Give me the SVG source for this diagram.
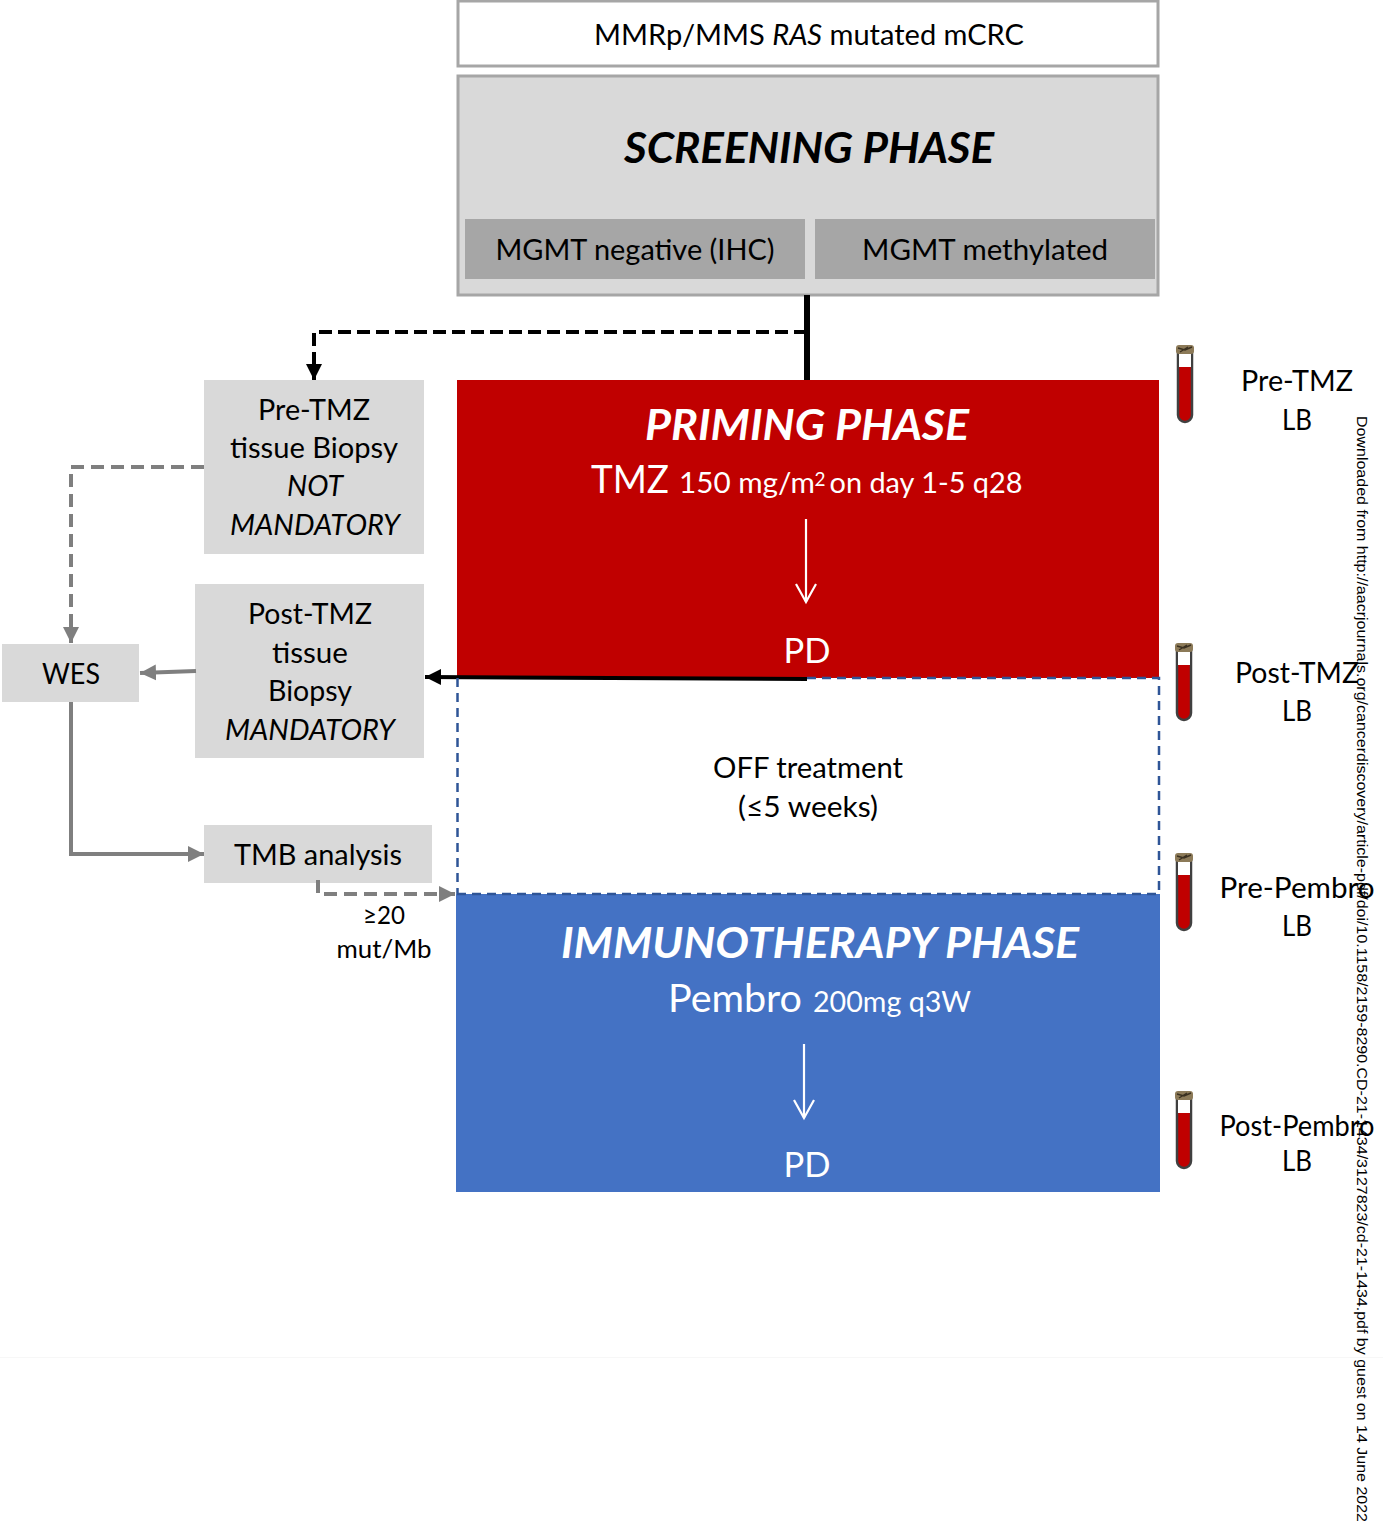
<svg xmlns="http://www.w3.org/2000/svg" width="1383" height="1530" viewBox="0 0 1383 1530">
<style>
text{font-family:Lato,"Open Sans","Liberation Sans",sans-serif;fill:#000;text-anchor:middle;font-size:29px}
.w{fill:#fff}
.i{font-style:italic}
.h{font-style:italic;font-weight:700;font-size:42px}
.g{fill:#d9d9d9}
.c{fill:none;stroke:#7f7f7f;stroke-width:4}
.d{stroke-dasharray:13 7}
.off{fill:none;stroke:#2f5597;stroke-width:2.5;stroke-dasharray:9 6}
</style>
<defs>
<marker id="ag" markerUnits="userSpaceOnUse" markerWidth="18" markerHeight="18" refX="16" refY="9" orient="auto"><path d="M0 1L16 9L0 17Z" fill="#7f7f7f"/></marker>
<marker id="ab" markerUnits="userSpaceOnUse" markerWidth="18" markerHeight="18" refX="16" refY="9" orient="auto"><path d="M0 1L16 9L0 17Z" fill="#000"/></marker>
<marker id="aw" markerUnits="userSpaceOnUse" markerWidth="24" markerHeight="24" refX="20" refY="12" orient="auto"><path d="M2 2L20 12L2 22" fill="none" stroke="#fff" stroke-width="2.2"/></marker>
<g id="tube">
<path d="M-7 0H7V65A7 7 0 0 1 -7 65Z" fill="#c00000" stroke="#404040" stroke-width="2.5"/>
<rect x="-6" y="4" width="12" height="13" fill="#fff"/>
<rect x="-9" y="-5" width="18" height="9" rx="3" fill="#8c7a58"/>
<path d="M-7 -2L0 0L7 -3M-5 2L3 -3" stroke="#3a3020" stroke-width="1.4" fill="none"/>
</g>
</defs>
<rect width="1383" height="1530" fill="#fff"/>
<path d="M0 1357.500H1383" stroke="#f7f7f7" stroke-width="1"/>

<g id="node-mcrc">
<rect x="458" y="1" width="700" height="65" fill="#fff" stroke="#a6a6a6" stroke-width="3"/>
<text x="809" y="45" textLength="430" lengthAdjust="spacingAndGlyphs">MMRp/MMS <tspan class="i">RAS</tspan> mutated mCRC</text>
</g>
<g id="node-screening">
<rect x="458" y="76" width="700" height="219" class="g" stroke="#a6a6a6" stroke-width="3"/>
<text x="809" y="163" class="h" textLength="370" lengthAdjust="spacingAndGlyphs">SCREENING PHASE</text>
</g>
<g id="node-mgmt-neg">
<rect x="465" y="219" width="340" height="60" fill="#a6a6a6"/>
<text x="635" y="260" textLength="279" lengthAdjust="spacingAndGlyphs">MGMT negative (IHC)</text>
</g>
<g id="node-mgmt-meth">
<rect x="815" y="219" width="340" height="60" fill="#a6a6a6"/>
<text x="985" y="260" textLength="246" lengthAdjust="spacingAndGlyphs">MGMT methylated</text>
</g>

<g id="node-priming">
<rect x="457" y="380" width="702" height="298" fill="#c00000"/>
<text x="807" y="440" class="h w" textLength="324" lengthAdjust="spacingAndGlyphs">PRIMING PHASE</text>
<text x="630" y="493" class="w" style="font-size:38px" textLength="78" lengthAdjust="spacingAndGlyphs">TMZ</text>
<text x="747" y="493" class="w" textLength="136" lengthAdjust="spacingAndGlyphs">150 mg/m</text>
<text x="820" y="486" class="w" style="font-size:19px">2</text>
<text x="926" y="493" class="w" textLength="193" lengthAdjust="spacingAndGlyphs">on day 1-5 q28</text>
<path d="M806 519V602" fill="none" stroke="#fff" stroke-width="2.200" marker-end="url(#aw)"/>
<text x="807" y="663" class="w" style="font-size:35px" textLength="47" lengthAdjust="spacingAndGlyphs">PD</text>
</g>
<g id="node-off">
<text x="808" y="778" textLength="190" lengthAdjust="spacingAndGlyphs">OFF treatment</text>
<text x="808" y="817" textLength="140" lengthAdjust="spacingAndGlyphs">(≤5 weeks)</text>
</g>
<g id="node-immuno">
<rect x="456" y="894" width="704" height="298" fill="#4472c4"/>
<text x="820" y="958" class="h w" textLength="518" lengthAdjust="spacingAndGlyphs">IMMUNOTHERAPY PHASE</text>
<text x="735" y="1012" class="w" style="font-size:38px" textLength="134" lengthAdjust="spacingAndGlyphs">Pembro</text>
<text x="892" y="1012" class="w" textLength="158" lengthAdjust="spacingAndGlyphs">200mg q3W</text>
<path d="M804 1044V1118" fill="none" stroke="#fff" stroke-width="2.200" marker-end="url(#aw)"/>
<text x="807" y="1177" class="w" style="font-size:35px" textLength="47" lengthAdjust="spacingAndGlyphs">PD</text>
</g>

<g id="node-pre-biopsy">
<rect x="204" y="380" width="220" height="174" class="g"/>
<text x="314" y="420" textLength="112" lengthAdjust="spacingAndGlyphs">Pre-TMZ</text>
<text x="314" y="458" textLength="168" lengthAdjust="spacingAndGlyphs">tissue Biopsy</text>
<text x="315" y="496" class="i" textLength="56" lengthAdjust="spacingAndGlyphs">NOT</text>
<text x="315" y="535" class="i" textLength="170" lengthAdjust="spacingAndGlyphs">MANDATORY</text>
</g>
<g id="node-post-biopsy">
<rect x="195" y="584" width="229" height="174" class="g"/>
<text x="310" y="624" textLength="124" lengthAdjust="spacingAndGlyphs">Post-TMZ</text>
<text x="310" y="663" textLength="76" lengthAdjust="spacingAndGlyphs">tissue</text>
<text x="310" y="701" textLength="84" lengthAdjust="spacingAndGlyphs">Biopsy</text>
<text x="310" y="740" class="i" textLength="170" lengthAdjust="spacingAndGlyphs">MANDATORY</text>
</g>
<g id="node-wes">
<rect x="2" y="644" width="137" height="58" class="g"/>
<text x="71" y="684" textLength="58" lengthAdjust="spacingAndGlyphs">WES</text>
</g>
<g id="node-tmb">
<rect x="204" y="825" width="228" height="58" class="g"/>
<text x="318" y="865" textLength="168" lengthAdjust="spacingAndGlyphs">TMB analysis</text>
</g>
<g id="label-tmb">
<text x="384" y="924" style="font-size:25px" textLength="42" lengthAdjust="spacingAndGlyphs">≥20</text>
<text x="384" y="958" style="font-size:25px" textLength="95" lengthAdjust="spacingAndGlyphs">mut/Mb</text>
</g>

<g id="connectors">
<path d="M807 295V380" fill="none" stroke="#000" stroke-width="6"/>
<path d="M807 332H314V380" fill="none" stroke="#000" stroke-width="4" stroke-dasharray="13 6" marker-end="url(#ab)"/>
<path d="M807 679L425 677" fill="none" stroke="#000" stroke-width="4" marker-end="url(#ab)"/>
<path d="M807 678H1159V894M457.500 678V894M457 894H1159" class="off"/>
<path d="M204 467H71V643" class="c d" marker-end="url(#ag)"/>
<path d="M196 671L140 673" class="c" marker-end="url(#ag)"/>
<path d="M71 702V854H204" class="c" marker-end="url(#ag)"/>
<path d="M318 880V894H455" class="c d" marker-end="url(#ag)"/>
</g>

<g id="tube-pre-tmz"><use href="#tube" x="1185" y="350"/><text x="1297" y="391" textLength="112" lengthAdjust="spacingAndGlyphs">Pre-TMZ</text><text x="1297" y="430" textLength="30" lengthAdjust="spacingAndGlyphs">LB</text></g>
<g id="tube-post-tmz"><use href="#tube" x="1184" y="648"/><text x="1297" y="683" textLength="124" lengthAdjust="spacingAndGlyphs">Post-TMZ</text><text x="1297" y="721" textLength="30" lengthAdjust="spacingAndGlyphs">LB</text></g>
<g id="tube-pre-pembro"><use href="#tube" x="1184" y="858"/><text x="1297" y="898" textLength="155" lengthAdjust="spacingAndGlyphs">Pre-Pembro</text><text x="1297" y="936" textLength="30" lengthAdjust="spacingAndGlyphs">LB</text></g>
<g id="tube-post-pembro"><use href="#tube" x="1184" y="1096"/><text x="1297" y="1136" textLength="155" lengthAdjust="spacingAndGlyphs">Post-Pembro</text><text x="1297" y="1171" textLength="30" lengthAdjust="spacingAndGlyphs">LB</text></g>

<text transform="translate(1357 416) rotate(90)" style="font-family:'Liberation Sans',sans-serif;font-size:14.500px;text-anchor:start" textLength="1106" lengthAdjust="spacingAndGlyphs">Downloaded from http://aacrjournals.org/cancerdiscovery/article-pdf/doi/10.1158/2159-8290.CD-21-1434/3127823/cd-21-1434.pdf by guest on 14 June 2022</text>
</svg>
